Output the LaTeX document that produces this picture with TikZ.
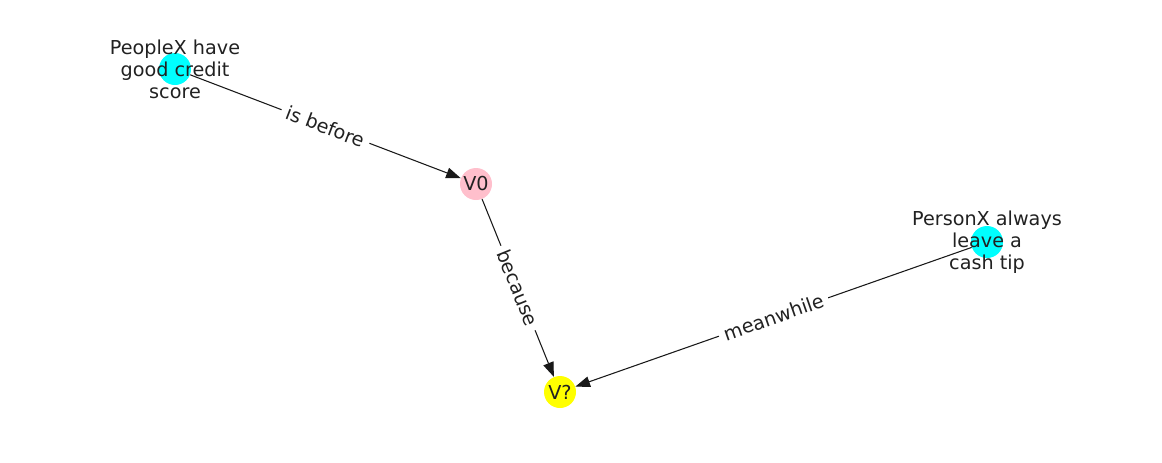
\documentclass[tikz,border=0pt]{standalone}
\usepackage{fontspec}
\setmainfont{DejaVu Sans}
\usetikzlibrary{arrows.meta}

\begin{document}
\begin{tikzpicture}[x=0.75pt,y=-0.75pt,
	every node/.style={font=\fontsize{14.4}{16.5}\selectfont, text=black!87},
	dot/.style={circle, inner sep=0pt, minimum size=24pt},
	txt/.style={align=center},
	edge/.style={draw=black!90, line width=0.8pt, -{Triangle[length=11pt,width=8pt]}},
	rel/.style={midway, sloped, fill=white, inner sep=4pt}]

	% Define colors
	\definecolor{nodecyan}{rgb}{0, 1, 1}
	\definecolor{nodepink}{rgb}{1, 0.75, 0.8}
	\definecolor{nodeyellow}{rgb}{1, 1, 0}

	% Fix the canvas
	\useasboundingbox (0,0) rectangle (1162,462);

	% Draw the nodes
	\node[dot, fill=nodecyan] (people) at (175,69) {};
	\node[dot, fill=nodepink] (v0) at (476,184) {};
	\node[dot, fill=nodecyan] (person) at (987,242) {};
	\node[dot, fill=nodeyellow] (vq) at (560,392) {};

	% Draw the edges
	\draw[edge] (people) -- (v0) node[rel] (lbefore) {is before};
	\draw[edge] (v0) -- (vq) node[rel] (lbecause) {because};
	\draw[edge] (person) -- (vq) node[rel] (lmeanwhile) {meanwhile};

	% Draw the node texts
	\node[txt] (tpeople) at (people.center) {PeopleX have\\good credit\\score};
	\node (tv0) at (v0.center) {V0};
	\node[txt] (tperson) at (person.center) {PersonX always\\leave a\\cash tip};
	\node (tvq) at (vq.center) {V?};

\end{tikzpicture}
\end{document}
